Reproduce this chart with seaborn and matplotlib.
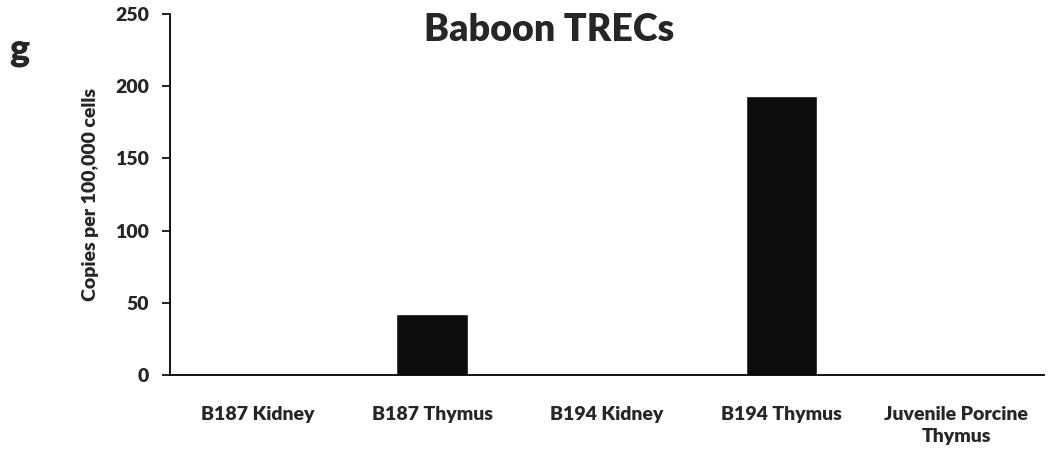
import matplotlib
matplotlib.use('Agg')
import pandas as pd
import seaborn as sns
import matplotlib.pyplot as plt
import numpy as np

categories = ['B187 Kidney', 'B187 Thymus', 'B194 Kidney', 'B194 Thymus', 'Juvenile Porcine\nThymus']
copies = [0, 42, 0, 193, 0]
yticks = [0, 50, 100, 150, 200, 250]

df = pd.DataFrame({'sample': categories, 'copies': copies})

sns.set_style('white')
plt.rcParams['font.family'] = ['Lato', 'DejaVu Sans']
plt.rcParams['font.weight'] = 'bold'

fig = plt.figure(figsize=(10.5, 4.53), dpi=100)
ax = fig.add_axes([0.162, 0.172, 0.832, 0.797])

sns.barplot(x='sample', y='copies', data=df, color='#0c0c0e', width=0.41,
            saturation=1, ax=ax)

ax.set_ylim(0, 250)
ax.set_xlim(-0.5, len(categories) - 0.5)
ax.set_yticks(yticks)
ax.set_yticklabels([str(v) for v in yticks], fontsize=14, fontweight='heavy')
ax.set_xticks(range(len(categories)))
ax.set_xticklabels(categories, fontsize=14, fontweight='heavy', linespacing=1.35)
ax.set_xticks(np.arange(-0.5, len(categories)), minor=True)
ax.tick_params(axis='x', which='major', length=0, pad=22)
ax.tick_params(axis='x', which='minor', length=6, width=1.2, direction='out', color='black')
ax.tick_params(axis='y', length=6, width=1.2, direction='out', color='black', pad=9, left=True)
ax.set_xlabel('')
ax.set_ylabel('Copies per 100,000 cells', fontsize=14, fontweight='heavy', labelpad=12)

for side in ['top', 'right']:
    ax.spines[side].set_visible(False)
for side in ['left', 'bottom']:
    ax.spines[side].set_color('black')
    ax.spines[side].set_linewidth(1.3)

fig.text(0.523, 0.934, 'Baboon TRECs', ha='center', va='center', fontsize=27, fontweight='heavy')
fig.text(0.018, 0.89, 'g', ha='center', va='center', fontsize=27, fontweight='heavy')

fig.savefig('out.png', dpi=100, facecolor='white')
